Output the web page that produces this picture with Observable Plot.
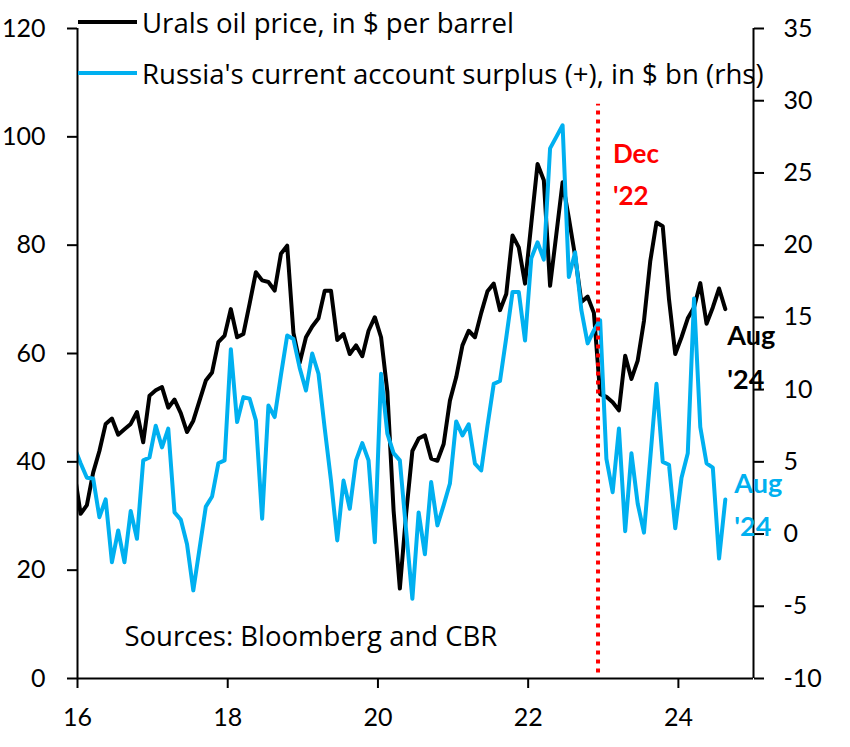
<!DOCTYPE html>
<html>
<head>
<meta charset="utf-8">
<script src="https://cdn.jsdelivr.net/npm/d3@7"></script>
<script src="https://cdn.jsdelivr.net/npm/@observablehq/plot@0.6"></script>
<style>
  body { margin: 0; background: #fff; }
  #wrap { position: relative; width: 850px; height: 747px; font-family: Lato, sans-serif; }
  .leg { position: absolute; left: 78px; height: 30px; line-height: 30px; display: flex; align-items: center; font-family: "Open Sans", sans-serif; font-size: 27.6px; color: #000; white-space: nowrap; }
  .leg .sw { width: 59px; height: 4px; margin-right: 5px; }
</style>
</head>
<body>
<div id="wrap"></div>
<script>
// First value of each series is Dec 2015 (clipped by the axis), then monthly to Aug 2024
const startYear = 2015, startMonth = 12;

// Urals oil price, $ per barrel
const uralsPrice = [
  38,
  30.4, 32, 38, 42, 47, 48, 45, 46, 47, 49.2, 43.6, 52.2,          // 2016
  53.2, 53.8, 50, 51.5, 49, 45.5, 47.6, 51.3, 55, 56.5, 62.1, 63.3, // 2017
  68.2, 63, 63.6, 69.2, 75, 73.5, 73.2, 71.6, 78.4, 79.9, 63.8, 58.3, // 2018
  63, 65, 66.5, 71.6, 71.6, 62.5, 63.6, 59.9, 61.5, 59.5, 64.2, 66.7, // 2019
  63, 53, 31, 16.6, 30.4, 42, 44.3, 44.9, 40.6, 40.2, 43.3, 51.3,   // 2020
  55.6, 61.5, 64.2, 63, 67.5, 71.5, 72.9, 68, 71, 81.8, 79.6, 72.9, // 2021
  84, 95, 92, 72.5, 82, 91.6, 85, 78, 69.5, 70.5, 67.5, 52.5,       // 2022
  52, 51, 49.5, 59.6, 55.3, 58.7, 66, 77, 84.2, 83.5, 70, 59.9,     // 2023
  63, 66.5, 68.5, 73, 65.5, 68.5, 72, 68.2                          // 2024
];

// Russia's current account surplus, $ bn (rhs)
const currentAccount = [
  6.0,
  4.9, 3.9, 3.85, 1.17, 2.4, -1.95, 0.25, -1.95, 1.6, -0.33, 5.1, 5.3,   // 2016
  7.5, 6.0, 7.3, 1.5, 1.0, -0.7, -3.9, -1.0, 1.9, 2.6, 4.9, 5.1,         // 2017
  12.8, 7.75, 9.48, 9.37, 7.87, 1.06, 8.9, 8.1, 11.0, 13.75, 13.5, 11.5, // 2018
  9.94, 12.5, 11.1, 7.3, 3.7, -0.44, 3.7, 1.75, 5.1, 6.3, 5.1, -0.56,    // 2019
  11.1, 6.95, 5.6, 5.1, 0.25, -4.48, 1.5, -1.4, 3.6, 0.6, 2.0, 3.5,      // 2020
  7.8, 6.83, 7.6, 4.87, 4.4, 7.5, 10.4, 10.6, 13.6, 16.75, 16.75, 13.4,  // 2021
  19.1, 20.2, 19.0, 26.7, 27.5, 28.3, 17.8, 19.5, 15.5, 13.2, 14.1, 14.8, // 2022
  5.2, 2.9, 7.3, 0.2, 5.6, 2.1, 0.1, 5.2, 10.4, 5.0, 4.8, 0.4,           // 2023
  3.9, 5.6, 16.3, 7.4, 4.9, 4.6, -1.7, 2.4                               // 2024
];

const seriesNames = ["Urals oil price, in $ per barrel", "Russia's current account surplus (+), in $ bn (rhs)"];
const seriesColors = ["#000000", "#00B0F0"];

const xDomain = [2016, 2025];
const xTicks = [2016, 2018, 2020, 2022, 2024];
const leftDomain = [0, 120];
const leftTicks = [0, 20, 40, 60, 80, 100, 120];
const rightDomain = [-10, 35];
const rightTicks = [-10, -5, 0, 5, 10, 15, 20, 25, 30, 35];

// December 2022 marker (date, extent on left axis)
const markerLine = [{x: 2022.93, y1: 1, y2: 106}];
const markerText = ["Dec", "'22"];
const endText = ["Aug", "'24"];
const sourceNote = ["Sources: Bloomberg and CBR"];

// ---- build tables ----
const k = (leftDomain[1] - leftDomain[0]) / (rightDomain[1] - rightDomain[0]);
const toLeft = v => leftDomain[0] + (v - rightDomain[0]) * k;
const fromLeft = d => rightDomain[0] + (d - leftDomain[0]) / k;
const monthX = i => startYear + (startMonth - 1 + i + 0.5) / 12;

const oilData = uralsPrice.map((v, i) => ({x: monthX(i), y: v}));
const caData = currentAccount.map((v, i) => ({x: monthX(i), y: toLeft(v)}));

const font = "Lato, sans-serif";

const chart = Plot.plot({
  width: 850,
  height: 747,
  marginLeft: 77,
  marginRight: 97,
  marginTop: 28,
  marginBottom: 69,
  style: {fontFamily: font, fontSize: "25px", color: "#000", background: "#fff"},
  x: {domain: xDomain},
  y: {domain: leftDomain},
  marks: [
    Plot.line(oilData, {x: "x", y: "y", stroke: seriesColors[0], strokeWidth: 4, clip: true}),
    Plot.line(caData, {x: "x", y: "y", stroke: seriesColors[1], strokeWidth: 4, clip: true}),
    Plot.ruleX(markerLine, {x: "x", y1: "y1", y2: "y2", stroke: "#FF0000", strokeWidth: 4, strokeDasharray: "4,5"}),
    Plot.axisX({ticks: xTicks, tickFormat: d => String(d).slice(2), tickSize: 10, tickPadding: 20, strokeWidth: 2, label: null, fontSize: 25}),
    Plot.axisY({ticks: leftTicks, tickSize: 10, tickPadding: 22, strokeWidth: 2, label: null, fontSize: 25}),
    Plot.axisY({anchor: "right", ticks: rightTicks.map(toLeft), tickFormat: d => String(Math.round(fromLeft(d))), tickSize: 10, tickPadding: 20, strokeWidth: 2, label: null, fontSize: 25}),
    Plot.ruleX(xDomain, {stroke: "#000", strokeWidth: 2}),
    Plot.ruleY([leftDomain[0]], {stroke: "#000", strokeWidth: 2}),
    Plot.text(markerLine, {x: "x", frameAnchor: "top", text: () => markerText.join("\n"), textAnchor: "start", dx: 15, dy: 105, lineHeight: 1.6, fill: "#FF0000", fontWeight: "bold", fontSize: 26}),
    Plot.text([oilData[oilData.length - 1]], {x: "x", y: "y", text: () => endText.join("\n"), textAnchor: "start", dx: 2, dy: 44, lineHeight: 1.6, fill: seriesColors[0], fontWeight: "bold", fontSize: 27}),
    Plot.text([caData[caData.length - 1]], {x: "x", y: "y", text: () => endText.join("\n"), textAnchor: "start", dx: 9, dy: 1, lineHeight: 1.6, fill: seriesColors[1], fontWeight: "bold", fontSize: 27}),
    Plot.text(sourceNote, {frameAnchor: "bottom-left", text: d => d, textAnchor: "start", dx: 47, dy: -33, fill: "#000", fontSize: 27.5, fontFamily: "Open Sans, sans-serif"})
  ]
});

const wrap = document.getElementById("wrap");
wrap.appendChild(chart);

// legend overlay (inside plot area, top-left)
const legendTops = [7, 58];
seriesNames.forEach((name, i) => {
  const row = document.createElement("div");
  row.className = "leg";
  row.style.top = legendTops[i] + "px";
  const sw = document.createElement("span");
  sw.className = "sw";
  sw.style.background = seriesColors[i];
  const tx = document.createElement("span");
  tx.textContent = name;
  row.appendChild(sw);
  row.appendChild(tx);
  wrap.appendChild(row);
});
</script>
</body>
</html>
